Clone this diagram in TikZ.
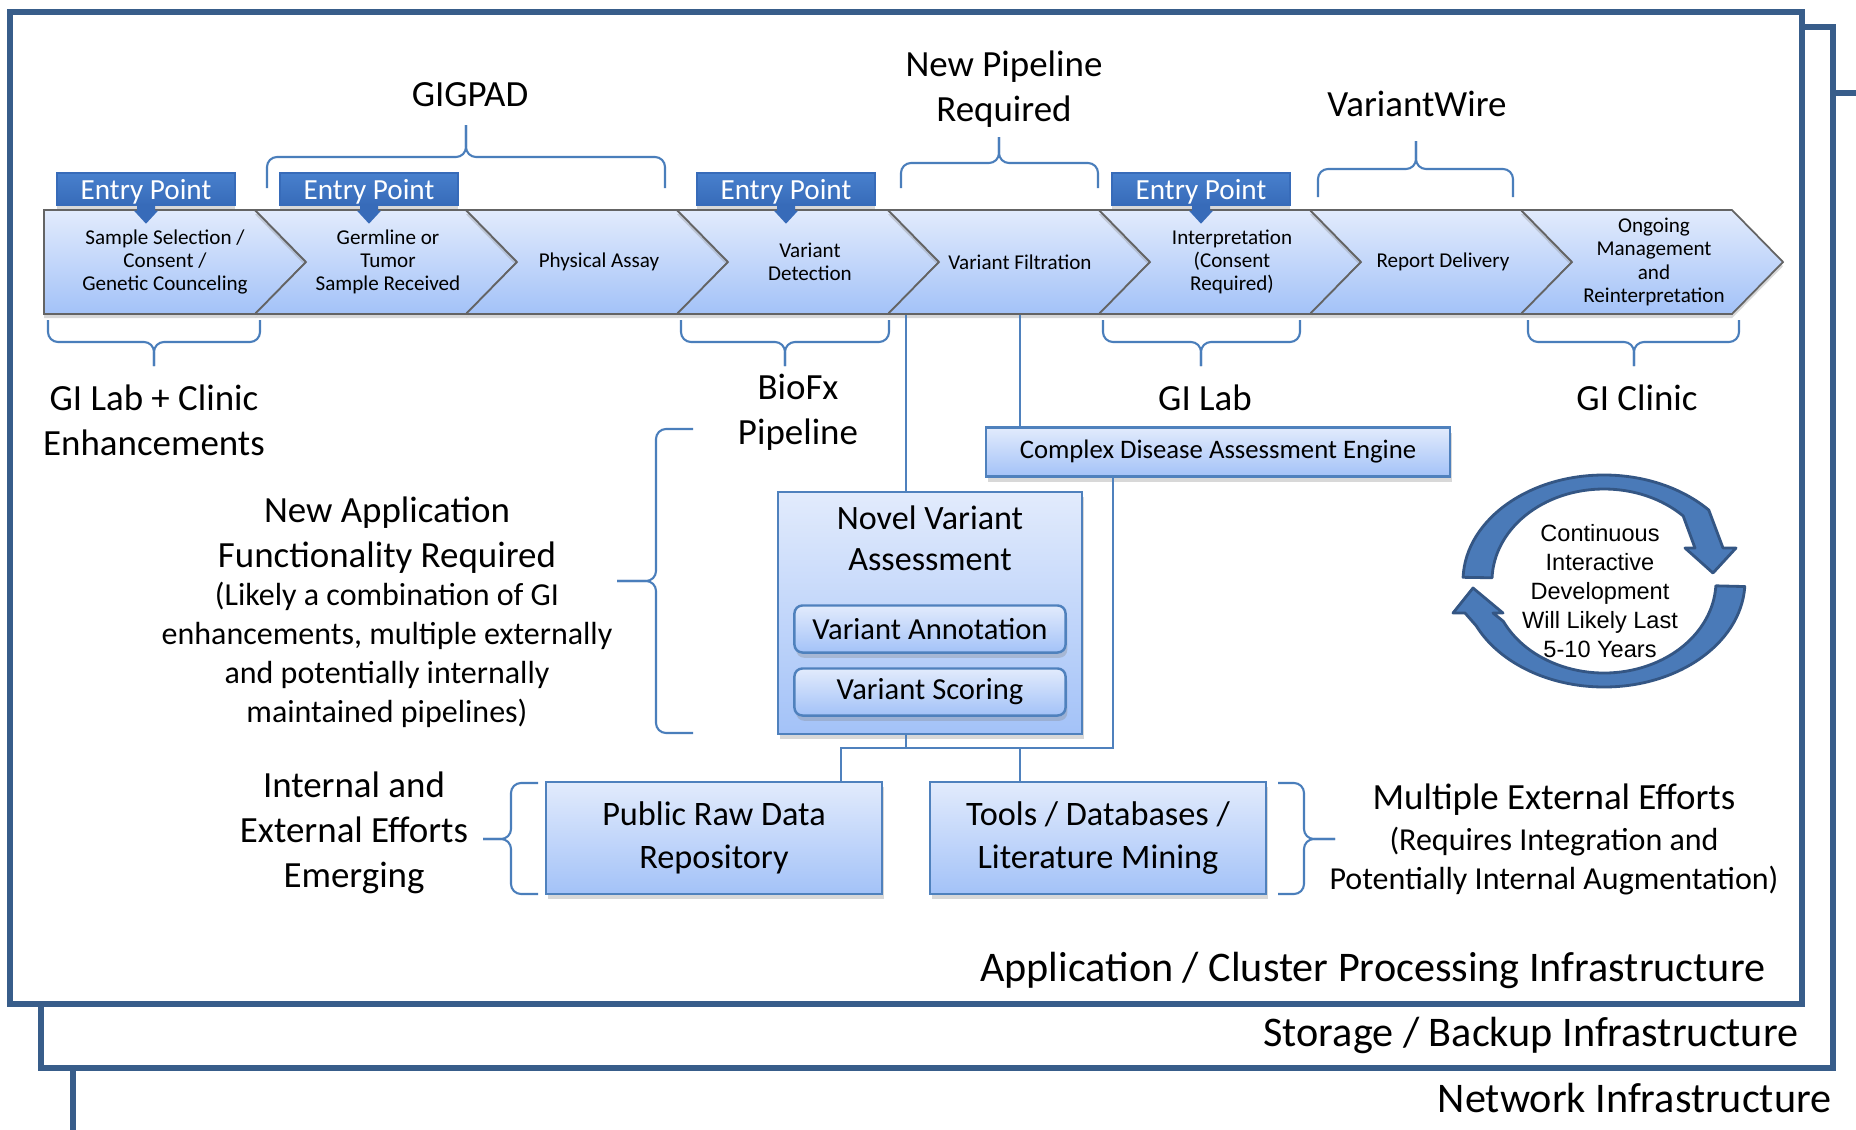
\documentclass[tikz,border=0pt]{standalone}
\usepackage{fontspec}
\setmainfont{Carlito}
\newfontfamily\arialfont{Liberation Sans}
\usetikzlibrary{positioning,shadows,shapes,fit}

\definecolor{frameblue}{RGB}{56,93,138}
\definecolor{braceblue}{RGB}{74,126,187}
\definecolor{boxline}{RGB}{79,129,189}
\definecolor{boxtop}{RGB}{226,235,252}
\definecolor{boxbot}{RGB}{163,194,248}
\definecolor{chevline}{RGB}{100,100,100}
\definecolor{entrytop}{RGB}{72,128,205}
\definecolor{entrybot}{RGB}{55,107,185}
\definecolor{cycleblue}{RGB}{74,122,184}
\definecolor{cycledark}{RGB}{52,86,132}

\tikzset {
    style Frame/.style={
        draw=frameblue,
        line width=1.45pt,
        fill=white,
    },
    style Chevron/.style={
        top color=boxtop,
        bottom color=boxbot,
        draw=chevline,
        line width=0.5pt,
        drop shadow={shadow xshift=0pt, shadow yshift=-1.2pt, opacity=.3},
    },
    style Step/.style={
        font=\fontsize{6}{6.6}\selectfont,
        align=center,
        inner sep=0pt,
        minimum width=1.6cm,
        minimum height=1.04cm,
    },
    style Entry/.style={
        top color=entrytop,
        bottom color=entrybot,
        draw=entrybot,
        text=white,
        rectangle, % Set the shape as a rectangle
        minimum width=1.78cm,
        minimum height=0.32cm,
        inner sep=0pt,
        text depth=0pt,
        font=\fontsize{8.3}{9}\selectfont,
        drop shadow={shadow xshift=0pt, shadow yshift=-1pt, opacity=.3},
    },
    style Box/.style={
        top color=boxtop,
        bottom color=boxbot,
        draw=boxline,
        line width=0.7pt,
        rectangle, % Set the shape as a rectangle
        inner sep=0pt,
        align=center,
        drop shadow={shadow xshift=0.5pt, shadow yshift=-1.5pt, opacity=.3},
    },
    style Button/.style={
        style Box,
        rounded corners=0.08cm,
        minimum width=2.71cm,
        minimum height=0.47cm,
        font=\fontsize{8.7}{10}\selectfont,
    },
    style Brace/.style={
        draw=braceblue,
        line width=0.6pt,
        rounded corners=0.1cm,
    },
    style Link/.style={
        draw=boxline,
        line width=0.5pt,
    },
    style Cycle/.style={
        fill=cycleblue,
        draw=cycledark,
        line width=0.8pt,
        line join=round,
    },
    style Big/.style={
        font=\fontsize{10.5}{12.8}\selectfont,
        align=center,
        inner sep=0pt,
    },
    style Note/.style={
        font=\fontsize{9.1}{11.1}\selectfont,
        align=center,
        inner sep=0pt,
    },
    style Layer/.style={
        font=\fontsize{12}{14}\selectfont,
        inner sep=0pt,
    },
}

\begin{document}
\begin{tikzpicture}[x=0.01cm, y=-0.01cm]
\useasboundingbox (0,0) rectangle (1856,1130);

% infrastructure layers
\draw[style Frame] (73,93) rectangle (1920,1200);
\draw[style Frame] (41,27) rectangle (1833,1068);
\draw[style Frame] (10,12) rectangle (1802,1004);
\node[style Layer, anchor=east] (network) at (1832,1098) {Network Infrastructure};
\node[style Layer, anchor=east] (storage) at (1799,1035) {Storage / Backup Infrastructure};
\node[style Layer, anchor=east] (appl) at (1766,970) {Application / Cluster Processing Infrastructure};

% process chevrons
\path[style Chevron] (44,210) -- ++(211,0) -- ++(51,52) -- ++(-51,52) -- ++(-211,0) -- cycle;
\node[style Step] (c1) at (165,262) {Sample Selection /\\Consent /\\Genetic Counceling};
\path[style Chevron] (255,210) -- ++(211,0) -- ++(51,52) -- ++(-51,52) -- ++(-211,0) -- ++(51,-52) -- cycle;
\node[style Step] (c2) at (388,262) {Germline or\\Tumor\\Sample Received};
\path[style Chevron] (466,210) -- ++(211,0) -- ++(51,52) -- ++(-51,52) -- ++(-211,0) -- ++(51,-52) -- cycle;
\node[style Step] (c3) at (599,262) {Physical Assay};
\path[style Chevron] (677,210) -- ++(211,0) -- ++(51,52) -- ++(-51,52) -- ++(-211,0) -- ++(51,-52) -- cycle;
\node[style Step] (c4) at (810,262) {Variant\\Detection};
\path[style Chevron] (888,210) -- ++(211,0) -- ++(51,52) -- ++(-51,52) -- ++(-211,0) -- ++(51,-52) -- cycle;
\node[style Step] (c5) at (1020,262) {Variant Filtration};
\path[style Chevron] (1099,210) -- ++(211,0) -- ++(51,52) -- ++(-51,52) -- ++(-211,0) -- ++(51,-52) -- cycle;
\node[style Step] (c6) at (1232,262) {Interpretation\\(Consent\\Required)};
\path[style Chevron] (1310,210) -- ++(211,0) -- ++(51,52) -- ++(-51,52) -- ++(-211,0) -- ++(51,-52) -- cycle;
\node[style Step] (c7) at (1443,262) {Report Delivery};
\path[style Chevron] (1521,210) -- ++(211,0) -- ++(51,52) -- ++(-51,52) -- ++(-211,0) -- ++(51,-52) -- cycle;
\node[style Step] (c8) at (1654,262) {Ongoing\\Management\\and\\Reinterpretation};

% entry points
\node[style Entry] (entry1) at (146,189) {Entry Point};
\node[style Entry] (entry2) at (369,189) {Entry Point};
\node[style Entry] (entry3) at (786,189) {Entry Point};
\node[style Entry] (entry4) at (1201,189) {Entry Point};
\fill[entrybot] (entry1.south) ++(-9,0) -- ++(0,5) -- ++(-3,0) -- ++(12,13) -- ++(12,-13) -- ++(-3,0) -- ++(0,-5) -- cycle;
\fill[entrybot] (entry2.south) ++(-9,0) -- ++(0,5) -- ++(-3,0) -- ++(12,13) -- ++(12,-13) -- ++(-3,0) -- ++(0,-5) -- cycle;
\fill[entrybot] (entry3.south) ++(-9,0) -- ++(0,5) -- ++(-3,0) -- ++(12,13) -- ++(12,-13) -- ++(-3,0) -- ++(0,-5) -- cycle;
\fill[entrybot] (entry4.south) ++(-9,0) -- ++(0,5) -- ++(-3,0) -- ++(12,13) -- ++(12,-13) -- ++(-3,0) -- ++(0,-5) -- cycle;

% braces above
\draw[style Brace] (267,188) -- (267,157) -- (466,157) -- (466,125);
\draw[style Brace] (665,188) -- (665,157) -- (466,157) -- (466,125);
\draw[style Brace] (901,188) -- (901,163) -- (999,163) -- (999,137);
\draw[style Brace] (1098,188) -- (1098,163) -- (999,163) -- (999,137);
\draw[style Brace] (1318,197) -- (1318,169) -- (1416,169) -- (1416,141);
\draw[style Brace] (1513,197) -- (1513,169) -- (1416,169) -- (1416,141);
% braces below
\draw[style Brace] (48,320) -- (48,342) -- (154,342) -- (154,366);
\draw[style Brace] (260,320) -- (260,342) -- (154,342) -- (154,366);
\draw[style Brace] (681,320) -- (681,342) -- (785,342) -- (785,366);
\draw[style Brace] (889,320) -- (889,342) -- (785,342) -- (785,366);
\draw[style Brace] (1103,320) -- (1103,342) -- (1201,342) -- (1201,366);
\draw[style Brace] (1300,320) -- (1300,342) -- (1201,342) -- (1201,366);
\draw[style Brace] (1528,320) -- (1528,342) -- (1634,342) -- (1634,366);
\draw[style Brace] (1739,320) -- (1739,342) -- (1634,342) -- (1634,366);
% side braces
\draw[style Brace] (693,429) -- (656,429) -- (656,581) -- (617,581);
\draw[style Brace] (693,733) -- (656,733) -- (656,581) -- (617,581);
\draw[style Brace] (538,783) -- (511,783) -- (511,839) -- (483,839);
\draw[style Brace] (538,894) -- (511,894) -- (511,839) -- (483,839);
\draw[style Brace] (1278,783) -- (1304,783) -- (1304,839) -- (1335,839);
\draw[style Brace] (1278,894) -- (1304,894) -- (1304,839) -- (1335,839);

% labels
\node[style Big] (gigpad) at (470,95) {GIGPAD};
\node[style Big] (newpipe) at (1004,89) {New Pipeline\\Required};
\node[style Big] (vwire) at (1417,104) {VariantWire};
\node[style Big] (labclinic) at (154,420) {GI Lab + Clinic\\Enhancements};
\node[style Big] (biofx) at (798,412) {BioFx\\Pipeline};
\node[style Big] (gilab) at (1205,398) {GI Lab};
\node[style Big] (giclinic) at (1637,398) {GI Clinic};
\node[style Big] (newapp) at (387,535) {New Application\\Functionality Required};
\node[style Note] (newappnote) at (387,655) {(Likely a combination of GI\\enhancements, multiple externally\\and potentially internally\\maintained pipelines)};
\node[style Big] (emerging) at (354,833) {Internal and\\External Efforts\\Emerging};
\node[style Big] (multiple) at (1554,800) {Multiple External Efforts};
\node[style Note] (multiplenote) at (1554,861) {(Requires Integration and\\Potentially Internal Augmentation)};

% assessment boxes
\node[style Box, minimum width=4.64cm, minimum height=0.49cm, font=\fontsize{7.6}{8.5}\selectfont] (cdae) at (1218,452) {Complex Disease Assessment Engine};
\node[style Box, minimum width=3.04cm, minimum height=2.42cm] (nva) at (930,613) {};
\node[font=\fontsize{9.7}{11.7}\selectfont, align=center, inner sep=0pt] (nvatitle) at (930,538) {Novel Variant\\Assessment};
\node[style Button] (annot) at (930,629) {Variant Annotation};
\node[style Button] (score) at (930,692) {Variant Scoring};
\node[style Box, minimum width=3.36cm, minimum height=1.12cm, font=\fontsize{9.75}{12.1}\selectfont] (pub) at (714,838) {Public Raw Data\\Repository};
\node[style Box, minimum width=3.36cm, minimum height=1.12cm, font=\fontsize{9.75}{12.1}\selectfont] (tools) at (1098,838) {Tools / Databases /\\Literature Mining};

% connectors
\coordinate (busL) at (841,748);
\coordinate (busR) at (1113,748);
\draw[style Link] (nva.north) ++(-24,0) coordinate (nvatop) -- (nvatop |- c5.south);
\draw[style Link] (c5.south) -- (c5.south |- cdae.north);
\draw[style Link] (busL |- pub.north) -- (busL) -- (busR) -- (busR |- cdae.south);
\draw[style Link] (nvatop |- nva.south) -- (nvatop |- busL);
\draw[style Link] (c5.south |- busL) -- (c5.south |- tools.north);

% development cycle
\begin{scope}[shift={(1604,581)}, yscale=-1]
\path[style Cycle] (178:141 and 106) arc[start angle=178, end angle=42, x radius=141, y radius=106]
    -- (119,33) -- (132,33) -- (109,8) -- (81,33) -- (91,33)
    -- (45:112 and 92) arc[start angle=45, end angle=178, x radius=112, y radius=92] -- cycle;
\path[style Cycle] (-3:141 and 106) arc[start angle=-3, end angle=-155, x radius=141, y radius=106]
    -- (-139,-32) -- (-151,-32) -- (-131,-7) -- (-101,-32) -- (-111,-32)
    -- (-154:112 and 92) arc[start angle=-154, end angle=-3, x radius=112, y radius=92] -- cycle;
\end{scope}
\node[font=\arialfont\fontsize{6.7}{8.2}\selectfont, align=center, inner sep=0pt] (cycletext) at (1600,591) {Continuous\\Interactive\\Development\\Will Likely Last\\5-10 Years};
\end{tikzpicture}
\end{document}
